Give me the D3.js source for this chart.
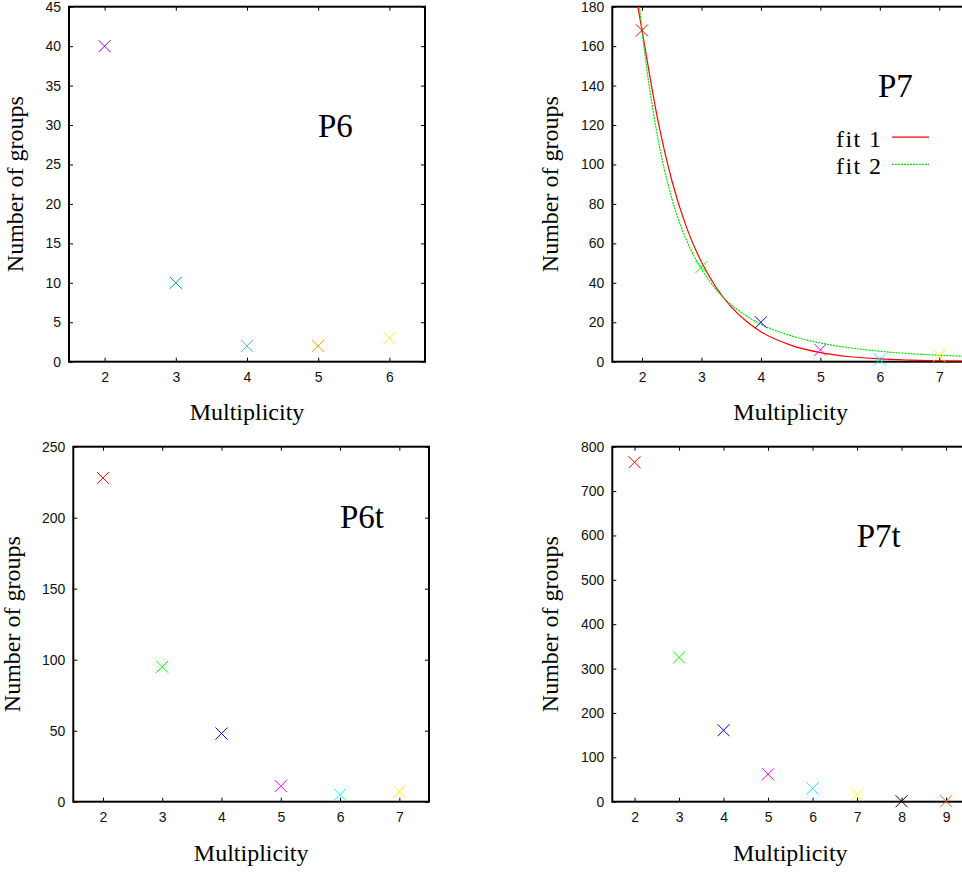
<!DOCTYPE html>
<html>
<head>
<meta charset="utf-8">
<script src="https://cdn.jsdelivr.net/npm/d3@7"></script>
<style>
  body { margin: 0; background: #fff; overflow: hidden; }
  svg { display: block; }
</style>
</head>
<body>
<svg id="chart"></svg>
<script>
// ---- data ----
const p6Mult = [2, 3, 4, 5, 6];
const p6Count = [40, 10, 2, 2, 3];
const p6Colors = ["#9400d3", "#009e73", "#56b4e9", "#e69f00", "#f0e442"];
const p6XTicks = [2, 3, 4, 5, 6];
const p6YTicks = [0, 5, 10, 15, 20, 25, 30, 35, 40, 45];

const p7Mult = [2, 3, 4, 5, 6, 7];
const p7Count = [168, 48, 20, 6, 1, 3];
const p7Colors = ["#ff0000", "#00ff00", "#0000ff", "#ff00ff", "#00ffff", "#ffff00"];
const p7XTicks = [2, 3, 4, 5, 6, 7];
const p7YTicks = [0, 20, 40, 60, 80, 100, 120, 140, 160, 180];

// fit curves in the P7 panel
const fit1X = [1.93, 2, 2.25, 2.5, 2.75, 3, 3.25, 3.5, 3.75, 4, 4.5, 5, 5.5, 6, 6.5, 7, 7.5];
const fit1Y = [180, 168, 125, 92, 68, 50.5, 37.5, 27.8, 20.6, 15.2, 8.4, 4.6, 2.5, 1.4, 0.8, 0.4, 0.25];
const fit2X = [1.957, 2, 2.25, 2.5, 2.75, 3, 3.25, 3.5, 3.75, 4, 4.5, 5, 5.5, 6, 6.5, 7, 7.5];
const fit2Y = [180, 168, 116, 83, 61.5, 47, 36.5, 28.9, 23.3, 19, 13.2, 9.5, 7, 5.3, 4.1, 3.3, 2.65];

const p6tMult = [2, 3, 4, 5, 6, 7];
const p6tCount = [228, 95, 48, 11, 5, 7];
const p6tColors = ["#ff0000", "#00ff00", "#0000ff", "#ff00ff", "#00ffff", "#ffff00"];
const p6tXTicks = [2, 3, 4, 5, 6, 7];
const p6tYTicks = [0, 50, 100, 150, 200, 250];

const p7tMult = [2, 3, 4, 5, 6, 7, 8, 9];
const p7tCount = [765, 325, 161, 62, 30, 16, 1, 1];
const p7tColors = ["#ff0000", "#00ff00", "#0000ff", "#ff00ff", "#00ffff", "#ffff00", "#000000", "#ff5a1e"];
const p7tXTicks = [2, 3, 4, 5, 6, 7, 8, 9];
const p7tYTicks = [0, 100, 200, 300, 400, 500, 600, 700, 800];

const width = 962;
const height = 873;
const sansFont = "'Liberation Sans', Arial, Helvetica, sans-serif";
const serifFont = "'Liberation Serif', 'Times New Roman', Times, serif";

const svg = d3.select("#chart").attr("width", width).attr("height", height);

const panels = [
  { name: "P6", left: 69, top: 6.7, w: 356, h: 355, xDom: [1.5, 6.5], yMax: 45,
    mult: p6Mult, count: p6Count, colors: p6Colors, xTicks: p6XTicks, yTicks: p6YTicks,
    yTitleX: 23, xTitleY: 420, label: [318, 137] },
  { name: "P7", left: 612.3, top: 6.7, w: 356.7, h: 355, xDom: [1.5, 7.5], yMax: 180,
    mult: p7Mult, count: p7Count, colors: p7Colors, xTicks: p7XTicks, yTicks: p7YTicks,
    yTitleX: 558, xTitleY: 420, label: [878, 97], fits: true },
  { name: "P6t", left: 73.3, top: 446.7, w: 355.7, h: 355, xDom: [1.5, 7.5], yMax: 250,
    mult: p6tMult, count: p6tCount, colors: p6tColors, xTicks: p6tXTicks, yTicks: p6tYTicks,
    yTitleX: 20, xTitleY: 861, label: [340, 528] },
  { name: "P7t", left: 612.3, top: 446.7, w: 356, h: 355, xDom: [1.5, 9.5], yMax: 800,
    mult: p7tMult, count: p7tCount, colors: p7tColors, xTicks: p7tXTicks, yTicks: p7tYTicks,
    yTitleX: 558, xTitleY: 861, label: [856.7, 546.7] },
];

panels.forEach((p, i) => {
  const x = d3.scaleLinear().domain(p.xDom).range([0, p.w]);
  const y = d3.scaleLinear().domain([0, p.yMax]).range([p.h, 0]);
  const g = svg.append("g").attr("transform", `translate(${p.left},${p.top})`);

  const styleAxis = sel => {
    sel.select(".domain").remove();
    sel.selectAll(".tick line").attr("stroke", "#000").attr("stroke-width", 1);
    sel.selectAll(".tick text")
      .attr("font-family", sansFont)
      .attr("font-size", "14px")
      .attr("fill", "#111");
  };

  // bottom / left axes with labels, ticks pointing inwards
  g.append("g")
    .attr("transform", `translate(0,${p.h})`)
    .call(d3.axisBottom(x).tickValues(p.xTicks).tickSize(-4).tickPadding(10).tickFormat(d3.format("d")))
    .call(styleAxis);
  g.append("g")
    .call(d3.axisLeft(y).tickValues(p.yTicks).tickSize(-4).tickPadding(8).tickFormat(d3.format("d")))
    .call(styleAxis);
  // mirrored ticks on top / right
  g.append("g")
    .call(d3.axisTop(x).tickValues(p.xTicks).tickSize(-4).tickFormat(""))
    .call(styleAxis);
  g.append("g")
    .attr("transform", `translate(${p.w},0)`)
    .call(d3.axisRight(y).tickValues(p.yTicks).tickSize(-4).tickFormat(""))
    .call(styleAxis);

  // frame
  g.append("rect")
    .attr("width", p.w)
    .attr("height", p.h)
    .attr("fill", "none")
    .attr("stroke", "#000")
    .attr("stroke-width", 2);

  const clipId = `clip-${i}`;
  g.append("clipPath").attr("id", clipId)
    .append("rect").attr("width", p.w).attr("height", p.h);

  if (p.fits) {
    const line = d3.line()
      .x(d => x(d[0]))
      .y(d => y(d[1]))
      .curve(d3.curveMonotoneX);
    const fit1 = d3.zip(fit1X, fit1Y);
    const fit2 = d3.zip(fit2X, fit2Y);
    g.append("path")
      .datum(fit1)
      .attr("clip-path", `url(#${clipId})`)
      .attr("d", line)
      .attr("fill", "none")
      .attr("stroke", "#ff0000")
      .attr("stroke-width", 1.2);
    g.append("path")
      .datum(fit2)
      .attr("clip-path", `url(#${clipId})`)
      .attr("d", line)
      .attr("fill", "none")
      .attr("stroke", "#00e000")
      .attr("stroke-width", 1.2)
      .attr("stroke-dasharray", "2,1");
  }

  // X markers
  const pts = p.mult.map((m, k) => ({ m, c: p.count[k], color: p.colors[k] }));
  const s = 6;
  const marks = g.selectAll(".pt")
    .data(pts)
    .join("g")
    .attr("class", "pt")
    .attr("transform", d => `translate(${x(d.m)},${y(d.c)})`);
  marks.append("path")
    .attr("d", `M${-s},${-s}L${s},${s}M${-s},${s}L${s},${-s}`)
    .attr("stroke", d => d.color)
    .attr("stroke-width", 1)
    .attr("fill", "none");

  // axis titles
  svg.append("text")
    .attr("transform", `translate(${p.yTitleX},${p.top + p.h / 2}) rotate(-90)`)
    .attr("text-anchor", "middle")
    .attr("font-family", serifFont)
    .attr("font-size", "24px")
    .text("Number of groups");
  svg.append("text")
    .attr("x", p.left + p.w / 2)
    .attr("y", p.xTitleY)
    .attr("text-anchor", "middle")
    .attr("font-family", serifFont)
    .attr("font-size", "24px")
    .text("Multiplicity");

  // panel label
  svg.append("text")
    .attr("x", p.label[0])
    .attr("y", p.label[1])
    .attr("font-family", serifFont)
    .attr("font-size", "33px")
    .text(p.name);
});

// legend for the fits
const legend = [
  { label: "fit 1", color: "#ff0000", dash: null, y: 147.2 },
  { label: "fit 2", color: "#00e000", dash: "2,1", y: 174.3 },
];
legend.forEach(l => {
  svg.append("text")
    .attr("x", 881)
    .attr("y", l.y)
    .attr("text-anchor", "end")
    .attr("font-family", serifFont)
    .attr("font-size", "24px")
    .attr("textLength", 45)
    .attr("lengthAdjust", "spacing")
    .text(l.label);
  svg.append("line")
    .attr("x1", 892).attr("x2", 929)
    .attr("y1", l.y - 10).attr("y2", l.y - 10)
    .attr("stroke", l.color)
    .attr("stroke-width", 1.2)
    .attr("stroke-dasharray", l.dash);
});
</script>
</body>
</html>
